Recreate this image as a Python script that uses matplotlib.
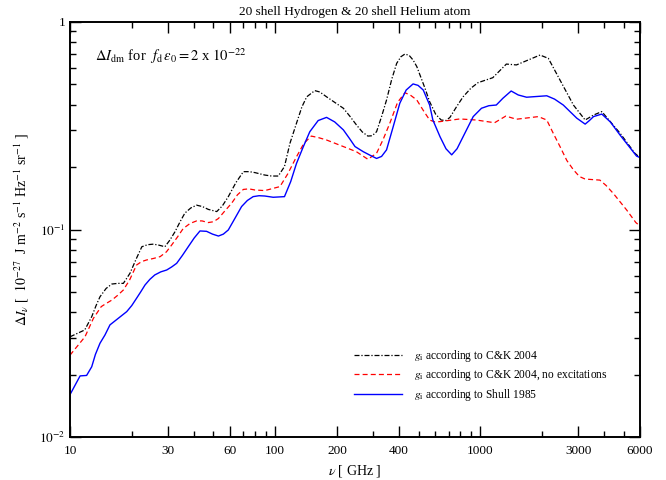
import matplotlib
matplotlib.use("Agg")
import matplotlib.pyplot as plt
from matplotlib.ticker import FixedLocator, NullFormatter, FixedFormatter, LogLocator

plt.rcParams['font.family'] = ['Liberation Serif', 'DejaVu Serif']
plt.rcParams['mathtext.fontset'] = 'stix'

# --- data ---
f_ck = [10, 11.8, 12.76, 13.4, 14.0, 15.0, 16.0, 17.1, 18.2, 19.6, 21.0, 22.4, 23.9, 25.5, 27.2, 29.0,
        30.7, 32.5, 34.4, 36.3, 38.8, 41.4, 44.2, 47.2, 51.9, 55.3, 59.1, 64.3, 70.0, 74.8, 79.7, 89,
        96, 103.5, 111, 118, 127, 135, 142.5, 156, 165, 178, 195, 215, 232, 249, 266, 283, 297, 312,
        330, 349, 370, 391, 410, 429, 450, 470, 490, 508, 537, 566, 605, 644, 680, 711, 765, 824, 900,
        974, 1150, 1339, 1499, 1680, 1954, 2145, 2445, 2842, 3242, 3560, 3908, 4799, 5664, 6000]
v_ck = [0.0304, 0.0328, 0.038, 0.043, 0.0474, 0.052, 0.0546, 0.055, 0.055, 0.0615, 0.072, 0.0826,
        0.0845, 0.085, 0.084, 0.0826, 0.089, 0.0976, 0.109, 0.120, 0.127, 0.131, 0.129, 0.125, 0.122,
        0.130, 0.144, 0.168, 0.190, 0.190, 0.188, 0.183, 0.181, 0.181, 0.201, 0.26, 0.325, 0.39,
        0.436, 0.467, 0.46, 0.436, 0.41, 0.384, 0.35, 0.319, 0.295, 0.282, 0.283, 0.296, 0.35, 0.421,
        0.53, 0.632, 0.68, 0.701, 0.69, 0.656, 0.61, 0.555, 0.48, 0.413, 0.36, 0.337, 0.335, 0.347,
        0.39, 0.436, 0.48, 0.510, 0.539, 0.627, 0.621, 0.651, 0.693, 0.668, 0.525, 0.398, 0.337,
        0.356, 0.370, 0.291, 0.233, 0.222]

f_noex = [10, 11.83, 13.0, 14.2, 15.0, 16.0, 17.0, 18.2, 19.5, 21.1, 22.3, 23.6, 25.5, 27.5, 29.5,
          31.3, 33.4, 35.6, 38.5, 41.4, 44, 47.2, 50, 52.9, 56.5, 61.4, 65.5, 70.0, 74.5, 79.7, 89,
          105.5, 115, 127, 138, 150, 163, 178, 215, 249, 283, 312, 335, 362, 395, 429, 455, 490,
          527, 566, 600, 636, 794, 956, 1173, 1330, 1499, 1918, 2107, 2270, 2445, 2640, 2842, 3040,
          3242, 3825, 4100, 4453, 5171, 5727, 6000]
v_noex = [0.0248, 0.0304, 0.0373, 0.0425, 0.044, 0.0457, 0.048, 0.0511, 0.057, 0.0674, 0.070,
          0.0713, 0.0725, 0.074, 0.078, 0.0842, 0.092, 0.101, 0.107, 0.110, 0.110, 0.108, 0.109,
          0.113, 0.122, 0.134, 0.147, 0.156, 0.157, 0.155, 0.154, 0.161, 0.185, 0.224, 0.26, 0.282,
          0.277, 0.270, 0.251, 0.237, 0.218, 0.233, 0.27, 0.325, 0.41, 0.456, 0.445, 0.421, 0.375,
          0.337, 0.33, 0.331, 0.341, 0.337, 0.327, 0.352, 0.340, 0.350, 0.337, 0.29, 0.251, 0.215,
          0.194, 0.18, 0.175, 0.173, 0.163, 0.149, 0.124, 0.108, 0.104]

f_shull = [10, 11.2, 12.05, 12.76, 13.3, 14.0, 14.8, 15.66, 17.0, 18.9, 20.0, 21.1, 22.1, 23.2, 24.5,
           25.9, 27.7, 29.6, 31.3, 33.1, 35.3, 37.7, 40.3, 43.0, 46.3, 49.5, 52.9, 55.9, 59.1, 63.6,
           68.6, 73.2, 78.1, 83.5, 89, 97.8, 111, 119, 127, 137, 147.5, 162, 178, 195, 215, 230, 245,
           269, 290, 312, 330, 349, 375, 405, 435, 470, 497, 527, 566, 587, 636, 680, 725, 770, 824,
           923, 1013, 1100, 1196, 1288, 1413, 1530, 1680, 2107, 2300, 2536, 2951, 3242, 3400, 3560,
           3908, 4300, 4799, 5770, 6000]
v_shull = [0.0160, 0.0197, 0.0198, 0.0218, 0.025, 0.0283, 0.031, 0.0347, 0.037, 0.0402, 0.043,
           0.0466, 0.050, 0.054, 0.0575, 0.0604, 0.0625, 0.0638, 0.066, 0.0687, 0.075, 0.0826, 0.091,
           0.0984, 0.098, 0.095, 0.093, 0.095, 0.0995, 0.113, 0.129, 0.138, 0.144, 0.1455, 0.145,
           0.143, 0.144, 0.17, 0.208, 0.25, 0.296, 0.335, 0.347, 0.33, 0.302, 0.275, 0.251, 0.237,
           0.228, 0.220, 0.225, 0.242, 0.31, 0.406, 0.47, 0.503, 0.495, 0.470, 0.398, 0.337, 0.280,
           0.245, 0.229, 0.245, 0.280, 0.350, 0.384, 0.395, 0.398, 0.429, 0.465, 0.445, 0.434,
           0.441, 0.425, 0.398, 0.344, 0.322, 0.335, 0.350, 0.360, 0.33, 0.285, 0.226, 0.222]

xticks = [10, 30, 60, 100, 200, 400, 1000, 3000, 6000]
xtick_labels = ['10', '30', '60', '100', '200', '400', '1000', '3000', '6000']
xminor = [20, 40, 50, 70, 80, 90, 300, 500, 600, 700, 800, 900, 2000, 4000, 5000]
yticks = [0.01, 0.1, 1]
ytick_labels = [r'$10^{-2}$', r'$10^{-1}$', '1']

labels = [r'$g_{\rm i}$ according to C&K 2004',
          r'$g_{\rm i}$ according to C&K 2004, no excitations',
          r'$g_{\rm i}$ according to Shull 1985']

fig = plt.figure(figsize=(6.66, 4.8), dpi=100)
ax = fig.add_axes([70/666, 43/480, 570/666, 415/480])

ax.plot(f_ck, v_ck, color='black', lw=0.9, dashes=(4, 1.5, 1, 1.5), label=labels[0])
ax.plot(f_noex, v_noex, color='#ff0000', lw=0.9, dashes=(4, 2.5), label=labels[1])
ax.plot(f_shull, v_shull, color='#0000ff', lw=1.0, label=labels[2])

ax.set_xscale('log')
ax.set_yscale('log')
ax.set_xlim(10, 6000)
ax.set_ylim(0.01, 1)

ax.xaxis.set_major_locator(FixedLocator(xticks))
ax.xaxis.set_major_formatter(FixedFormatter(xtick_labels))
ax.xaxis.set_minor_locator(FixedLocator(xminor))
ax.xaxis.set_minor_formatter(NullFormatter())
ax.yaxis.set_major_locator(FixedLocator(yticks))
ax.yaxis.set_major_formatter(FixedFormatter(ytick_labels))
ax.yaxis.set_minor_locator(LogLocator(base=10, subs=range(2, 10)))
ax.yaxis.set_minor_formatter(NullFormatter())

ax.tick_params(which='both', direction='in', top=True, right=True, labelsize=9.5, width=1.0)
ax.tick_params(which='major', length=8)
ax.tick_params(which='minor', length=4.5)
ax.tick_params(axis='x', pad=6)
for s in ax.spines.values():
    s.set_linewidth(1.4)

ax.set_title('20 shell Hydrogen & 20 shell Helium atom', fontsize=9.6, pad=5)
ax.set_xlabel(r'$\nu$ [ GHz ]', fontsize=10, labelpad=4)
ax.set_ylabel(r'$\Delta I_{\nu}$ [  $10^{-27}$  J m$^{-2}$ s$^{-1}$ Hz$^{-1}$ sr$^{-1}$ ]', fontsize=10, labelpad=6)

ax.text(0.044, 0.905, r'$\Delta I_{\rm dm}$ for  $f_{\rm d}\,\varepsilon_0 = 2$ x $10^{-22}$',
        transform=ax.transAxes, fontsize=10.5)

leg = ax.legend(loc='upper left', bbox_to_anchor=(0.48, 0.24), frameon=False, fontsize=8.3,
                handlelength=4.2, handletextpad=1.0, labelspacing=0.3)

fig.savefig('out.png', dpi=100)
